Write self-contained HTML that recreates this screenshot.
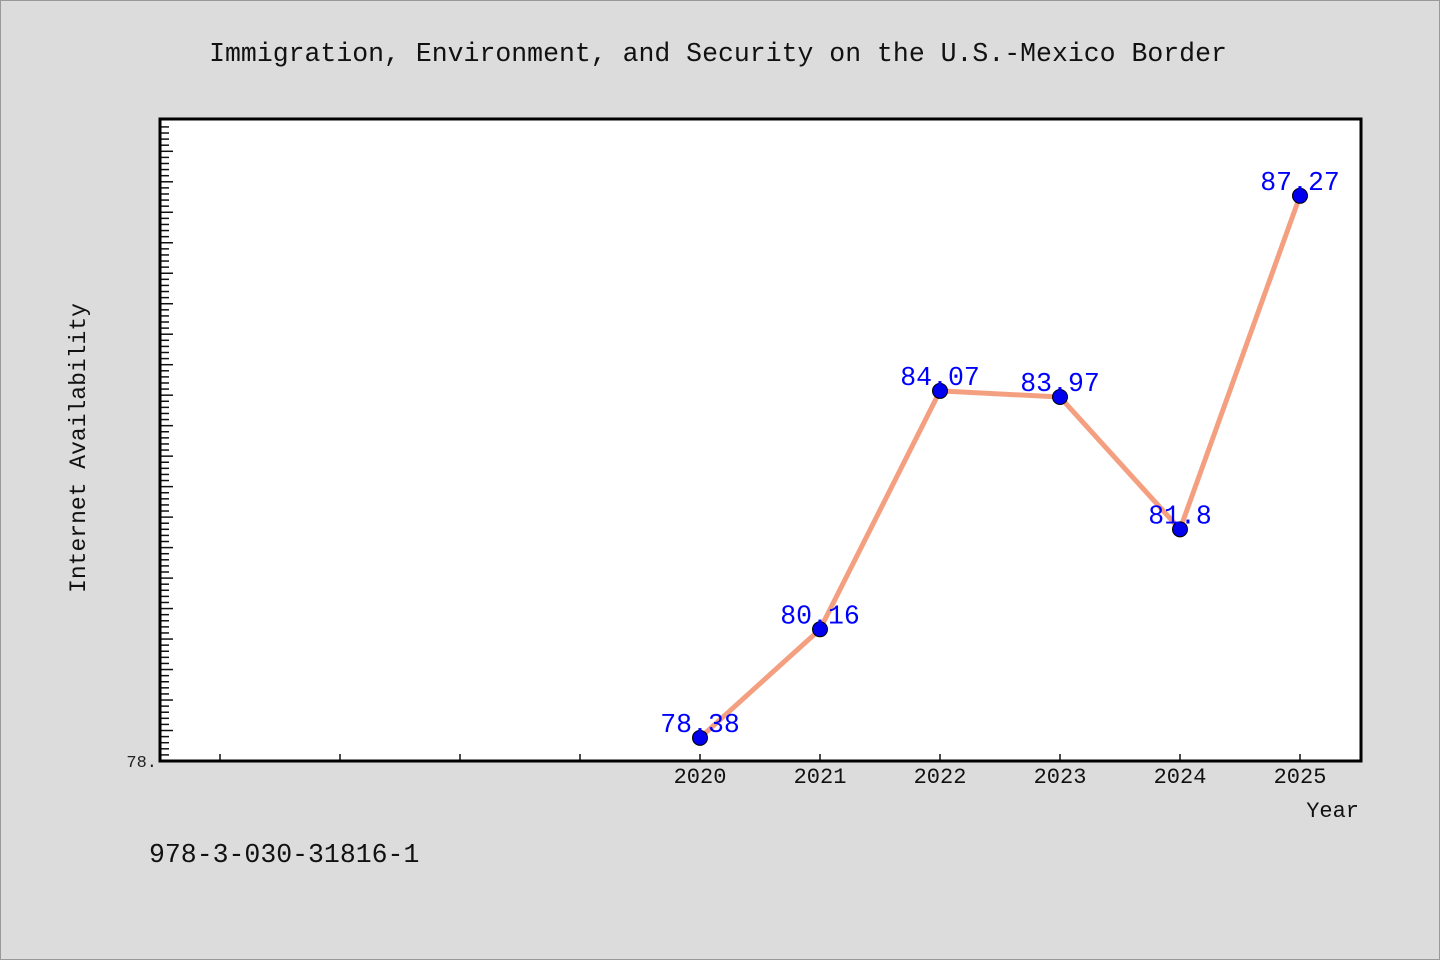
<!DOCTYPE html>
<html><head><meta charset="utf-8"><style>
body{margin:0;background:#dcdcdc;}
svg{display:block;}
text{font-family:"Liberation Mono","WenQuanYi Zen Hei",monospace;}
</style></head><body>
<svg id="chart" width="1440" height="960">
<rect x="0.5" y="0.5" width="1439" height="959" fill="#dcdcdc" stroke="#999"/>
<text x="718" y="61" text-anchor="middle" font-size="26.5" fill="#111">Immigration, Environment, and Security on the U.S.-Mexico Border</text>
<rect x="160" y="119" width="1201" height="642" fill="#fff"/>
<g id="ticks"></g>
<g id="series"></g>
<rect x="160" y="119" width="1201" height="642" fill="none" stroke="#000" stroke-width="3"/>
<text x="157" y="767" text-anchor="end" font-size="17" fill="#222">78.</text>
<text transform="translate(85,448) rotate(-90)" text-anchor="middle" font-size="23" fill="#111">Internet Availability</text>
<text x="1359" y="817" text-anchor="end" font-size="22" fill="#111">Year</text>
<text x="149" y="862" font-size="26.5" fill="#111">978-3-030-31816-1</text>
</svg>
<script>
const years=[2020,2021,2022,2023,2024,2025];
const values=[78.38,80.16,84.07,83.97,81.8,87.27];
const valueLabels=["78.38","80.16","84.07","83.97","81.8","87.27"];
const NS="http://www.w3.org/2000/svg";
const x=v=>160+(v-2015.5)*120;
const y=v=>761-(v-78)*60.97;
function mk(tag,attrs,parent){const e=document.createElementNS(NS,tag);for(const k in attrs)e.setAttribute(k,attrs[k]);parent.appendChild(e);return e;}
const tg=document.getElementById('ticks');
for(let i=1;i<=105;i++){const v=78+i*0.1;const yy=y(v);if(yy<121)break;const major=i%5===0;
 const l=mk('line',{x1:161,x2:major?173:169,y1:yy,y2:yy,stroke:'#111','stroke-width':1.5},tg);
 
 }
for(let yr=2016;yr<=2025;yr++){const xx=x(yr);
 const l=mk('line',{x1:xx,x2:xx,y1:760,y2:754,stroke:'#111','stroke-width':1.5},tg);
 
 }
years.forEach(yr=>{const t=mk('text',{x:x(yr),y:783,'text-anchor':'middle','font-size':22,fill:'#111'},tg);t.textContent=yr;
 
 });
const sg=document.getElementById('series');
const pl=mk('polyline',{points:years.map((yr,i)=>x(yr)+','+y(values[i])).join(' '),fill:'none',stroke:'#f4a080','stroke-width':5,'stroke-linejoin':'round'},sg);


years.forEach((yr,i)=>{
 const c=mk('circle',{cx:x(yr),cy:y(values[i]),r:7.5,fill:'#0000ee',stroke:'#000','stroke-width':1},sg);
 
 
 const t=mk('text',{x:x(yr),y:y(values[i])-6,'text-anchor':'middle','font-size':26.5,fill:'#0000ff'},sg);
 t.textContent=valueLabels[i];
 
 
});
</script>
</body></html>
